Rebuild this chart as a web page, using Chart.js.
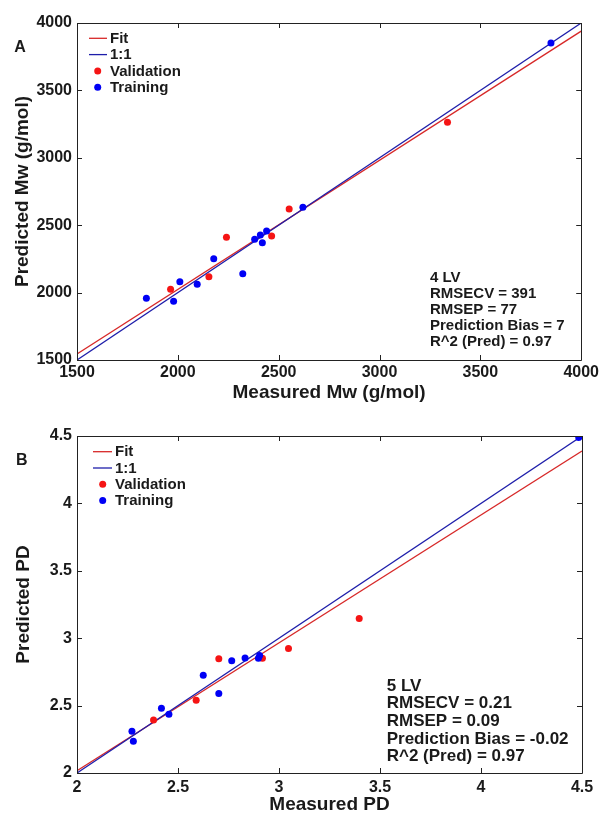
<!DOCTYPE html>
<html><head><meta charset="utf-8">
<script src="https://cdn.jsdelivr.net/npm/chart.js@4.4.0/dist/chart.umd.min.js"></script>
<style>
html,body{margin:0;padding:0;background:#fff;}
canvas{position:absolute;left:0;}
#ca{top:0;}
#cb{top:407px;}
</style></head><body>
<canvas id="ca" width="602" height="407"></canvas>
<canvas id="cb" width="602" height="407"></canvas>
<script>
// ---- Panel A : Mw ----
const mwTicks = [1500, 2000, 2500, 3000, 3500, 4000];
const mwValMeasured  = [1964, 2154, 2241, 2465, 2552, 3337];
const mwValPredicted = [2024, 2118, 2410, 2420, 2620, 3263];
const mwTrainMeasured  = [1844, 1979, 2010, 2096, 2178, 2322, 2381, 2409, 2440, 2419, 2620, 3850];
const mwTrainPredicted = [1958, 1935, 2081, 2062, 2251, 2140, 2395, 2427, 2457, 2370, 2633, 3852];
const mwFitX = [1500, 4000];
const mwFitY = [1545, 3940];
const mwOneX = [1500, 4000];
const mwOneY = [1500, 4000];
const mwStats = ["4 LV", "RMSECV = 391", "RMSEP = 77", "Prediction Bias = 7", "R^2 (Pred) = 0.97"];

// ---- Panel B : PD ----
const pdTicks = [2, 2.5, 3, 3.5, 4, 4.5];
const pdValMeasured  = [2.379, 2.590, 2.702, 2.918, 3.047, 3.397];
const pdValPredicted = [2.394, 2.539, 2.847, 2.851, 2.923, 3.146];
const pdTrainMeasured  = [2.272, 2.279, 2.418, 2.455, 2.625, 2.702, 2.766, 2.832, 2.898, 2.904, 4.484];
const pdTrainPredicted = [2.309, 2.235, 2.480, 2.435, 2.725, 2.589, 2.832, 2.854, 2.851, 2.871, 4.489];
const pdFitX = [2, 4.5];
const pdFitY = [2.017, 4.389];
const pdOneX = [2, 4.5];
const pdOneY = [2, 4.5];
const pdStats = ["5 LV", "RMSECV = 0.21", "RMSEP = 0.09", "Prediction Bias = -0.02", "R^2 (Pred) = 0.97"];

const legendLabels = ["Fit", "1:1", "Validation", "Training"];

const FONT = "'Liberation Sans', Arial, Helvetica, sans-serif";
const TXT = '#1a1a1a';
const RED_PT = 'rgb(245,20,20)';
const BLUE_PT = 'rgb(0,0,245)';
const RED_LN = 'rgb(215,40,40)';
const BLUE_LN = 'rgb(30,30,170)';

function pts(xs, ys) { return xs.map((x, i) => ({x: x, y: ys[i]})); }

function makeChart(id, cfg) {
  const framePlugin = {
    id: 'frame',
    afterDraw(chart) {
      const ctx = chart.ctx;
      const a = chart.chartArea;
      const xs = chart.scales.x, ys = chart.scales.y;
      ctx.save();
      ctx.strokeStyle = '#222';
      ctx.lineWidth = 1;
      ctx.beginPath();
      ctx.rect(Math.round(a.left) + 0.5, Math.round(a.top) + 0.5, Math.round(a.right - a.left), Math.round(a.bottom - a.top));
      ctx.stroke();
      const tl = 5;
      ctx.beginPath();
      cfg.ticks.forEach(v => {
        const px = Math.round(xs.getPixelForValue(v)) + 0.5;
        ctx.moveTo(px, a.bottom); ctx.lineTo(px, a.bottom - tl);
        ctx.moveTo(px, a.top); ctx.lineTo(px, a.top + tl);
        const py = Math.round(ys.getPixelForValue(v)) + 0.5;
        ctx.moveTo(a.left, py); ctx.lineTo(a.left + tl, py);
        ctx.moveTo(a.right, py); ctx.lineTo(a.right - tl, py);
      });
      ctx.stroke();

      // legend
      const L = cfg.legend;
      ctx.font = 'bold 15px ' + FONT;
      ctx.textBaseline = 'middle';
      ctx.textAlign = 'left';
      ctx.fillStyle = TXT;
      const cols = [RED_LN, BLUE_LN, RED_PT, BLUE_PT];
      legendLabels.forEach((lab, i) => {
        const y = L.y0 + i * L.dy;
        if (i < 2) {
          ctx.strokeStyle = cols[i];
          ctx.lineWidth = 1.3;
          ctx.beginPath();
          ctx.moveTo(L.lx0, y); ctx.lineTo(L.lx1, y);
          ctx.stroke();
        } else {
          ctx.fillStyle = cols[i];
          ctx.beginPath();
          ctx.arc(L.mx, y, 3.5, 0, Math.PI * 2);
          ctx.fill();
        }
        ctx.fillStyle = TXT;
        ctx.fillText(lab, L.tx, y + 0.5);
      });

      // stats
      const S = cfg.stats;
      ctx.font = 'bold ' + S.size + 'px ' + FONT;
      S.lines.forEach((t, i) => ctx.fillText(t, S.x, S.y0 + i * S.dy));

      // panel letter
      ctx.font = 'bold 16px ' + FONT;
      ctx.textAlign = 'center';
      ctx.fillText(cfg.letter, cfg.letterX, cfg.letterY);
      ctx.restore();
    }
  };

  return new Chart(document.getElementById(id), {
    type: 'scatter',
    data: {
      datasets: [
        {label: 'Validation', data: pts(cfg.valX, cfg.valY), backgroundColor: RED_PT, borderWidth: 0, pointRadius: 3.5, order: 1},
        {label: 'Training', data: pts(cfg.trX, cfg.trY), backgroundColor: BLUE_PT, borderWidth: 0, pointRadius: 3.5, order: 0},
        {label: 'Fit', data: pts(cfg.fitX, cfg.fitY), showLine: true, borderColor: RED_LN, borderWidth: 1.3, pointRadius: 0, order: 3},
        {label: '1:1', data: pts(cfg.oneX, cfg.oneY), showLine: true, borderColor: BLUE_LN, borderWidth: 1.3, pointRadius: 0, order: 2}
      ]
    },
    options: {
      responsive: false,
      animation: false,
      events: [],
      layout: {padding: {top: cfg.padTop, right: 20, left: 0, bottom: 0}},
      plugins: {legend: {display: false}, tooltip: {enabled: false}},
      scales: {
        x: {
          type: 'linear', min: cfg.ticks[0], max: cfg.ticks[cfg.ticks.length - 1],
          afterBuildTicks: s => { s.ticks = cfg.ticks.map(v => ({value: v})); },
          afterFit: s => { s.height = cfg.xHeight; },
          grid: {display: false, drawTicks: false},
          border: {display: false},
          ticks: {color: TXT, padding: cfg.xTickPad, maxRotation: 0, autoSkip: false,
                  font: {family: FONT, size: 16, weight: 'bold', lineHeight: 1.2},
                  callback: v => String(v)},
          title: {display: true, text: cfg.xTitle, color: TXT,
                  font: {family: FONT, size: 19, weight: 'bold', lineHeight: 1},
                  padding: {top: 0, bottom: cfg.xTitlePad}}
        },
        y: {
          type: 'linear', min: cfg.ticks[0], max: cfg.ticks[cfg.ticks.length - 1],
          afterBuildTicks: s => { s.ticks = cfg.ticks.map(v => ({value: v})); },
          afterFit: s => { s.width = 77; },
          grid: {display: false, drawTicks: false},
          border: {display: false},
          ticks: {color: TXT, padding: 5, autoSkip: false,
                  font: {family: FONT, size: 16, weight: 'bold', lineHeight: 1.2},
                  callback: v => String(v)},
          title: {display: true, text: cfg.yTitle, color: TXT,
                  font: {family: FONT, size: 19, weight: 'bold', lineHeight: 1},
                  padding: {top: cfg.yTitlePad, bottom: 0}}
        }
      }
    },
    plugins: [framePlugin]
  });
}

makeChart('ca', {
  ticks: mwTicks,
  valX: mwValMeasured, valY: mwValPredicted,
  trX: mwTrainMeasured, trY: mwTrainPredicted,
  fitX: mwFitX, fitY: mwFitY, oneX: mwOneX, oneY: mwOneY,
  padTop: 23, xHeight: 47, xTickPad: 3, xTitlePad: 4.5, yTitlePad: 13.5,
  xTitle: 'Measured Mw (g/mol)', yTitle: 'Predicted Mw (g/mol)',
  legend: {y0: 38.3, dy: 16.3, lx0: 89, lx1: 107, mx: 97.7, tx: 110},
  stats: {lines: mwStats, x: 430, y0: 277.5, dy: 16, size: 15},
  letter: 'A', letterX: 20, letterY: 48
});

makeChart('cb', {
  ticks: pdTicks,
  valX: pdValMeasured, valY: pdValPredicted,
  trX: pdTrainMeasured, trY: pdTrainPredicted,
  fitX: pdFitX, fitY: pdFitY, oneX: pdOneX, oneY: pdOneY,
  padTop: 29, xHeight: 41, xTickPad: 4.5, xTitlePad: 0, yTitlePad: 14.5,
  xTitle: 'Measured PD', yTitle: 'Predicted PD',
  legend: {y0: 44.7, dy: 16.3, lx0: 93, lx1: 112, mx: 102.7, tx: 115},
  stats: {lines: pdStats, x: 386.7, y0: 279, dy: 17.7, size: 17},
  letter: 'B', letterX: 21.7, letterY: 54
});
</script>
</body></html>
